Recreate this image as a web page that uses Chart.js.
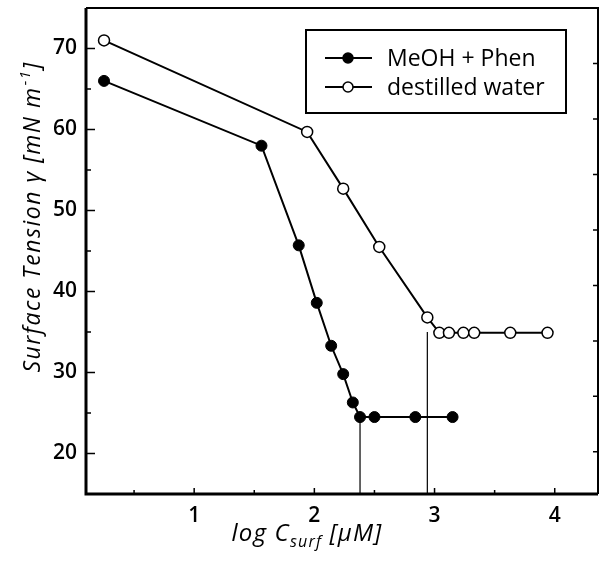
<!DOCTYPE html>
<html>
<head>
<meta charset="utf-8">
<script src="https://cdn.jsdelivr.net/npm/chart.js@4.4.1/dist/chart.umd.min.js"></script>
<style>
  html, body { margin: 0; padding: 0; background: #fff; }
  #wrap { width: 600px; height: 562px; position: relative; }
</style>
</head>
<body>
<div id="wrap"><canvas id="c" width="600" height="562"></canvas></div>
<script>
// ---- data ----
const phenX  = [0.25, 1.56, 1.87, 2.02, 2.14, 2.24, 2.32, 2.38, 2.50, 2.84, 3.15];
const phenY  = [66.0, 58.0, 45.7, 38.6, 33.3, 29.8, 26.3, 24.5, 24.5, 24.5, 24.5];
const waterX = [0.25, 1.94, 2.24, 2.54, 2.94, 3.04, 3.12, 3.24, 3.33, 3.63, 3.94];
const waterY = [71.0, 59.7, 52.7, 45.5, 36.8, 34.9, 34.9, 34.9, 34.9, 34.9, 34.9];
const cmcPhenX = [2.38, 2.38];
const cmcPhenY = [24.5, 15];
const cmcWaterX = [2.94, 2.94];
const cmcWaterY = [35, 15];
const xTicks = [1, 2, 3, 4];
const yTicks = [20, 30, 40, 50, 60, 70];
const xMinor = [0.5, 1.5, 2.5, 3.5];
const yMinor = [25, 35, 45, 55, 65];
const rightTicks = [1, 2, 3, 4, 5, 6, 7, 8];
const seriesLabels = ['MeOH + Phen', 'destilled water'];

const FONT = '"Open Sans", "DejaVu Sans", sans-serif';

function pts(xs, ys) { return xs.map((x, i) => ({x: x, y: ys[i]})); }

const framePlugin = {
  id: 'frame',
  afterDraw(chart) {
    const ctx = chart.ctx, a = chart.chartArea;
    const xs = chart.scales.x, ys = chart.scales.y, ys2 = chart.scales.y2;
    ctx.save();
    ctx.strokeStyle = '#000';
    ctx.lineCap = 'butt';
    // frame
    ctx.lineWidth = 3;
    ctx.beginPath();
    ctx.moveTo(a.left, a.top); ctx.lineTo(a.left, a.bottom); ctx.lineTo(a.right, a.bottom);
    ctx.stroke();
    ctx.lineWidth = 2;
    ctx.beginPath();
    ctx.moveTo(a.left, a.top); ctx.lineTo(a.right, a.top); ctx.lineTo(a.right, a.bottom);
    ctx.stroke();
    // inward ticks
    ctx.lineWidth = 1.5;
    ctx.beginPath();
    yTicks.forEach(v => { const p = ys.getPixelForValue(v); ctx.moveTo(a.left, p); ctx.lineTo(a.left + 9, p); });
    yMinor.forEach(v => { const p = ys.getPixelForValue(v); ctx.moveTo(a.left, p); ctx.lineTo(a.left + 5, p); });
    xTicks.forEach(v => { const p = xs.getPixelForValue(v); ctx.moveTo(p, a.bottom); ctx.lineTo(p, a.bottom - 6); });
    xMinor.forEach(v => { const p = xs.getPixelForValue(v); ctx.moveTo(p, a.bottom); ctx.lineTo(p, a.bottom - 4); });
    rightTicks.forEach(v => { const p = ys2.getPixelForValue(v); ctx.moveTo(a.right, p); ctx.lineTo(a.right - 5, p); });
    ctx.stroke();

    // axis titles
    ctx.fillStyle = '#000';
    ctx.textBaseline = 'alphabetic';
    ctx.letterSpacing = '1.5px';
    // y title
    const big = 'italic 23px ' + FONT, small = 'italic 15px ' + FONT;
    const s1 = 'Surface Tension γ [mN m', s2 = '-1', s3 = ']';
    ctx.font = big; const w1 = ctx.measureText(s1).width, w3 = ctx.measureText(s3).width;
    ctx.font = small; const w2 = ctx.measureText(s2).width;
    const tot = w1 + w2 + w3 + 1;
    ctx.save();
    ctx.translate(40, 217);
    ctx.rotate(-Math.PI / 2);
    let x0 = -tot / 2;
    ctx.font = big; ctx.fillText(s1, x0, 0); x0 += w1 + 1;
    ctx.font = small; ctx.fillText(s2, x0, -10); x0 += w2;
    ctx.font = big; ctx.fillText(s3, x0, 0);
    ctx.restore();
    // x title
    ctx.letterSpacing = '1.2px';
    const t1 = 'log C', t2 = 'surf', t3 = ' [μM]';
    const bigX = 'italic 24px ' + FONT, smallX = 'italic 16px ' + FONT;
    ctx.font = bigX; const u1 = ctx.measureText(t1).width, u3 = ctx.measureText(t3).width;
    ctx.font = smallX; const u2 = ctx.measureText(t2).width;
    let xx = 307 - (u1 + u2 + u3) / 2;
    ctx.font = bigX; ctx.fillText(t1, xx, 541); xx += u1;
    ctx.font = smallX; ctx.fillText(t2, xx, 547); xx += u2;
    ctx.font = bigX; ctx.fillText(t3, xx, 541);
    ctx.letterSpacing = '0px';

    // legend
    const L = {left: 306, top: 30, right: 566, bottom: 113};
    ctx.fillStyle = '#fff';
    ctx.fillRect(L.left, L.top, L.right - L.left, L.bottom - L.top);
    ctx.lineWidth = 2;
    ctx.strokeRect(L.left, L.top, L.right - L.left, L.bottom - L.top);
    const rows = [58, 87];
    [0, 1].forEach(i => {
      const ds = chart.data.datasets[i];
      const y = rows[i];
      ctx.lineWidth = 2.2;
      ctx.strokeStyle = '#000';
      ctx.beginPath(); ctx.moveTo(325, y); ctx.lineTo(372, y); ctx.stroke();
      ctx.beginPath(); ctx.arc(348, y, 5, 0, Math.PI * 2);
      ctx.fillStyle = ds.pointBackgroundColor; ctx.fill();
      ctx.lineWidth = 1.5; ctx.stroke();
      ctx.fillStyle = '#000';
      ctx.font = '23px ' + FONT;
      ctx.textBaseline = 'middle';
      ctx.fillText(ds.label, 387, y + 1);
    });
    ctx.restore();
  }
};

new Chart(document.getElementById('c'), {
  type: 'line',
  data: {
    datasets: [
      { label: seriesLabels[0], data: pts(phenX, phenY), borderColor: '#000', borderWidth: 2,
        pointRadius: 5.5, pointBackgroundColor: '#000', pointBorderColor: '#000', pointBorderWidth: 1, tension: 0 },
      { label: seriesLabels[1], data: pts(waterX, waterY), borderColor: '#000', borderWidth: 2,
        pointRadius: 5.5, pointBackgroundColor: '#fff', pointBorderColor: '#000', pointBorderWidth: 1.5, tension: 0 },
      { label: 'cmc1', data: pts(cmcPhenX, cmcPhenY), borderColor: '#000', borderWidth: 1.2, pointRadius: 0, order: 5 },
      { label: 'cmc2', data: pts(cmcWaterX, cmcWaterY), borderColor: '#000', borderWidth: 1.2, pointRadius: 0, order: 5 }
    ]
  },
  options: {
    responsive: false,
    animation: false,
    devicePixelRatio: 1,
    layout: { autoPadding: false, padding: { top: 8, right: 2, left: 0, bottom: 0 } },
    plugins: { legend: { display: false }, tooltip: { enabled: false } },
    scales: {
      x: {
        type: 'linear', min: 0.1, max: 4.36,
        grid: { display: false, drawTicks: false }, border: { display: false },
        afterBuildTicks: s => { s.ticks = xTicks.map(v => ({value: v})); },
        afterFit: s => { s.height = 68; s.paddingLeft = 0; s.paddingRight = 0; },
        ticks: { color: '#000', padding: 9, font: { family: FONT, size: 21, weight: '600' }, maxRotation: 0 }
      },
      y: {
        type: 'linear', min: 15, max: 75,
        grid: { display: false, drawTicks: false }, border: { display: false },
        afterBuildTicks: s => { s.ticks = yTicks.map(v => ({value: v})); },
        afterFit: s => { s.width = 86; s.paddingTop = 0; s.paddingBottom = 0; },
        ticks: { color: '#000', padding: 9, font: { family: FONT, size: 21, weight: '600' } }
      },
      y2: {
        type: 'linear', position: 'right', min: 0.24, max: 9.0, display: false
      }
    }
  },
  plugins: [framePlugin]
});
</script>
</body>
</html>
